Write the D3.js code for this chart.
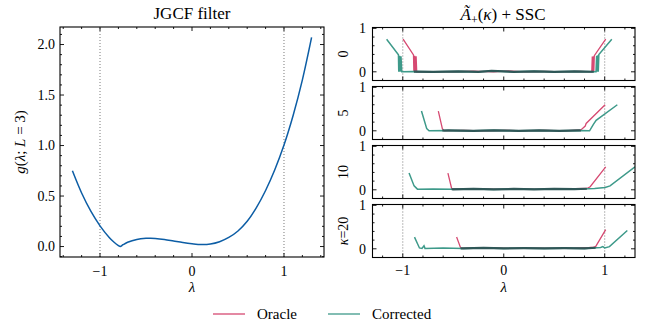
<!DOCTYPE html>
<html>
<head>
<meta charset="utf-8">
<script src="https://cdn.jsdelivr.net/npm/d3@7"></script>
<style>
  body { margin: 0; background: #fff; }
  svg { font-family: "Liberation Serif", serif; }
  .frame { fill: none; stroke: #000; stroke-width: 1.1; }
</style>
</head>
<body>
<div id="chart"></div>
<script>
// JGCF filter response g(lambda; L=3)
const filterLambda = [-1.3, -1.2, -1.1, -1.0, -0.9, -0.85, -0.8, -0.78, -0.75, -0.7, -0.6, -0.5, -0.45, -0.4,
  -0.3, -0.2, -0.1, 0.0, 0.1, 0.2, 0.3, 0.4, 0.5, 0.6, 0.7, 0.8, 0.9, 1.0, 1.1, 1.2, 1.3];
const filterValue = [0.75, 0.53, 0.35, 0.205, 0.09, 0.045, 0.01, 0.0, 0.018, 0.042, 0.07, 0.081, 0.082, 0.08,
  0.07, 0.055, 0.04, 0.028, 0.02, 0.025, 0.048, 0.09, 0.154, 0.25, 0.385, 0.555, 0.76, 1.005, 1.30, 1.65, 2.07];

// right column: [lambda, A] pairs per kappa
const kappas = ["0", "5", "10", "20"];
const oracle0 = [[-0.997, 0.75], [-0.894, 0.39], [-0.89, 0.0], [-0.882, 0.37], [-0.876, 0.0], [-0.868, 0.36],
  [-0.862, 0.0], [-0.7, 0.005], [-0.5, 0.0], [-0.3, 0.015], [-0.1, 0.0], [0.05, 0.02], [0.2, 0.0], [0.4, 0.01],
  [0.6, 0.0], [0.75, 0.01], [0.872, 0.0], [0.877, 0.35], [0.882, 0.0], [0.888, 0.36], [0.892, 0.0],
  [0.897, 0.37], [1.01, 0.75]];
const corrected0 = [[-1.16, 0.75], [-1.043, 0.39], [-1.04, 0.0], [-1.032, 0.37], [-1.026, 0.0], [-1.018, 0.36],
  [-1.01, 0.0], [-0.9, 0.005], [-0.7, 0.0], [-0.45, 0.01], [-0.25, 0.0], [-0.12, 0.02], [0.1, 0.0], [0.3, 0.012],
  [0.5, 0.0], [0.7, 0.01], [0.914, 0.0], [0.92, 0.37], [0.925, 0.0], [0.932, 0.38], [0.936, 0.0],
  [0.942, 0.40], [1.07, 0.75]];
const oracle5 = [[-0.648, 0.455], [-0.608, 0.05], [-0.59, 0.0], [-0.4, 0.01], [-0.2, 0.0], [0.0, 0.012],
  [0.2, 0.0], [0.4, 0.01], [0.6, 0.0], [0.764, 0.02], [0.807, 0.11], [0.816, 0.17], [1.004, 0.6]];
const corrected5 = [[-0.815, 0.455], [-0.763, 0.05], [-0.74, 0.0], [-0.55, 0.01], [-0.3, 0.0], [-0.1, 0.012],
  [0.15, 0.0], [0.35, 0.01], [0.55, 0.0], [0.75, 0.008], [0.85, 0.0], [0.888, 0.15], [0.915, 0.24], [1.125, 0.6]];
const oracle10 = [[-0.553, 0.385], [-0.516, 0.03], [-0.4, 0.015], [-0.2, 0.02], [0.0, 0.01], [0.2, 0.02],
  [0.4, 0.012], [0.6, 0.02], [0.823, 0.03], [0.856, 0.07], [1.01, 0.53]];
const corrected10 = [[-0.938, 0.385], [-0.888, 0.09], [-0.855, 0.015], [-0.7, 0.02], [-0.5, 0.012], [-0.3, 0.02],
  [-0.1, 0.01], [0.1, 0.02], [0.3, 0.012], [0.5, 0.02], [0.7, 0.015], [0.9, 0.03], [1.004, 0.054],
  [1.053, 0.09], [1.30, 0.53]];
const oracle20 = [[-0.467, 0.27], [-0.427, 0.02], [-0.3, 0.01], [-0.1, 0.02], [0.1, 0.01], [0.3, 0.015],
  [0.5, 0.01], [0.7, 0.015], [0.85, 0.03], [0.889, 0.04], [0.91, 0.05], [1.01, 0.44]];
const corrected20 = [[-0.884, 0.27], [-0.835, 0.02], [-0.81, 0.01], [-0.79, 0.07], [-0.78, 0.01], [-0.6, 0.02],
  [-0.4, 0.01], [-0.2, 0.02], [0.0, 0.01], [0.2, 0.015], [0.4, 0.01], [0.6, 0.015], [0.8, 0.01],
  [0.96, 0.03], [0.981, 0.05], [1.0, 0.02], [1.047, 0.05], [1.224, 0.42]];
const oracleSeries = [oracle0, oracle5, oracle10, oracle20];
const correctedSeries = [corrected0, corrected5, corrected10, corrected20];

const seriesNames = ["Oracle", "Corrected"];
const leftXTicks = [-1, 0, 1];
const leftYTicks = [0, 0.5, 1.0, 1.5, 2.0];
const rightYTicks = [0, 1];

const W = 649, H = 331;
const blue = "#0C5DA5", rose = "#d64a72", teal = "#3e9a8a", dark = "#2f5757";

const svg = d3.select("#chart").append("svg").attr("width", W).attr("height", H);

// ticks pointing inward on all four sides
function drawTicks(g, x, y, xMajor, xMinor, yMajor, yMinor) {
    const [x0, x1] = x.range(), [y0, y1] = y.range();
    const major = 4, minor = 2;
    xMajor.forEach(v => {
        g.append("line").attr("x1", x(v)).attr("x2", x(v)).attr("y1", y0).attr("y2", y0 - major);
        g.append("line").attr("x1", x(v)).attr("x2", x(v)).attr("y1", y1).attr("y2", y1 + major);
    });
    xMinor.forEach(v => {
        g.append("line").attr("x1", x(v)).attr("x2", x(v)).attr("y1", y0).attr("y2", y0 - minor);
        g.append("line").attr("x1", x(v)).attr("x2", x(v)).attr("y1", y1).attr("y2", y1 + minor);
    });
    yMajor.forEach(v => {
        g.append("line").attr("y1", y(v)).attr("y2", y(v)).attr("x1", x0).attr("x2", x0 + major);
        g.append("line").attr("y1", y(v)).attr("y2", y(v)).attr("x1", x1).attr("x2", x1 - major);
    });
    yMinor.forEach(v => {
        g.append("line").attr("y1", y(v)).attr("y2", y(v)).attr("x1", x0).attr("x2", x0 + minor);
        g.append("line").attr("y1", y(v)).attr("y2", y(v)).attr("x1", x1).attr("x2", x1 - minor);
    });
    g.selectAll("line").attr("stroke", "#000").attr("stroke-width", 0.9);
}

function fmtMinus(v, d) {
    return (v < 0 ? "\u2212" : "") + Math.abs(v).toFixed(d);
}

function dotted(g, x, y, v) {
    g.append("line").attr("x1", x(v)).attr("x2", x(v))
        .attr("y1", y.range()[0]).attr("y2", y.range()[1])
        .attr("stroke", "#7a7a7a").attr("stroke-width", 1).attr("stroke-dasharray", "1,2");
}

// ---------------- left panel ----------------
const lx = d3.scaleLinear().domain([-1.435, 1.435]).range([60, 324]);
const ly = d3.scaleLinear().domain([-0.1035, 2.1735]).range([257, 27]);
const left = svg.append("g");

dotted(left, lx, ly, -1);
dotted(left, lx, ly, 1);

const filterPts = filterLambda.map((v, i) => [v, filterValue[i]]);
left.append("path").datum(filterPts)
    .attr("fill", "none").attr("stroke", blue).attr("stroke-width", 1.5)
    .attr("d", d3.line().x(d => lx(d[0])).y(d => ly(d[1])).curve(d3.curveCatmullRom.alpha(0.5)));

const ticksL = left.append("g");
drawTicks(ticksL, lx, ly, leftXTicks, d3.range(-14, 15, 2).map(v => v / 10).filter(v => !leftXTicks.includes(v)),
    leftYTicks, d3.range(-1, 22).map(v => v / 10).filter(v => v % 0.5 !== 0));
left.append("rect").attr("class", "frame").attr("x", 60).attr("y", 27).attr("width", 264).attr("height", 230);

left.selectAll("text.xt").data(leftXTicks).enter().append("text")
    .attr("x", d => lx(d)).attr("y", 276).attr("text-anchor", "middle").attr("font-size", 14)
    .text(d => fmtMinus(d, 0));
left.selectAll("text.yt").data(leftYTicks).enter().append("text")
    .attr("x", 55).attr("y", d => ly(d) + 4.8).attr("text-anchor", "end").attr("font-size", 14)
    .text(d => d.toFixed(1));
left.append("text").attr("x", 192).attr("y", 19).attr("text-anchor", "middle").attr("font-size", 17)
    .text("JGCF filter");
left.append("text").attr("x", 192).attr("y", 292).attr("text-anchor", "middle").attr("font-size", 15)
    .attr("font-style", "italic").text("λ");
const yl = left.append("text").attr("transform", "translate(25,142) rotate(-90)")
    .attr("text-anchor", "middle").attr("font-size", 15);
yl.append("tspan").attr("font-style", "italic").text("g");
yl.append("tspan").text("(");
yl.append("tspan").attr("font-style", "italic").text("λ");
yl.append("tspan").text("; ");
yl.append("tspan").attr("font-style", "italic").text("L");
yl.append("tspan").text(" = 3)");

// ---------------- right column ----------------
const rx = d3.scaleLinear().domain([-1.3, 1.3]).range([372.5, 635]);
const panelTop0 = 27.5, panelH = 53, panelStep = 59;
const line = d3.line();

kappas.forEach((k, i) => {
    const top = panelTop0 + i * panelStep;
    const ry = d3.scaleLinear().domain([-0.2, 1.02]).range([top + panelH, top]);
    const g = svg.append("g");
    const clipId = "clip" + i;
    svg.append("clipPath").attr("id", clipId).append("rect")
        .attr("x", 372.5).attr("y", top).attr("width", 635 - 372.5).attr("height", panelH);

    dotted(g, rx, ry, -1);
    dotted(g, rx, ry, 1);

    line.x(d => rx(d[0])).y(d => ry(d[1]));
    const plot = g.append("g").attr("clip-path", `url(#${clipId})`);
    plot.append("path").datum(oracleSeries[i])
        .attr("fill", "none").attr("stroke", rose).attr("stroke-width", 1.3).attr("d", line);
    plot.append("path").datum(correctedSeries[i])
        .attr("fill", "none").attr("stroke", teal).attr("stroke-width", 1.5).attr("d", line);

    // where both curves sit on zero the stacked lines look dark
    const flat = s => s.filter(d => d[1] < 0.06).map(d => d[0]);
    const fo = flat(oracleSeries[i]), fc = flat(correctedSeries[i]);
    const s0 = Math.max(d3.min(fo), d3.min(fc)), s1 = Math.min(d3.max(fo), d3.max(fc));
    const ovId = "ov" + i;
    svg.append("clipPath").attr("id", ovId).append("rect")
        .attr("x", rx(s0)).attr("y", top).attr("width", rx(s1) - rx(s0)).attr("height", panelH);
    plot.append("path").datum(correctedSeries[i]).attr("clip-path", `url(#${ovId})`)
        .attr("fill", "none").attr("stroke", dark).attr("stroke-width", 2.2).attr("d", line);

    const tg = g.append("g");
    drawTicks(tg, rx, ry, [-1, 0, 1], [-1.2, -0.8, -0.6, -0.4, -0.2, 0.2, 0.4, 0.6, 0.8, 1.2],
        rightYTicks, [-0.2, 0.2, 0.4, 0.6, 0.8]);
    g.append("rect").attr("class", "frame").attr("x", 372.5).attr("y", top)
        .attr("width", 635 - 372.5).attr("height", panelH);

    g.selectAll("text.yt").data(rightYTicks).enter().append("text")
        .attr("x", 366).attr("y", d => ry(d) + 4.8).attr("text-anchor", "end").attr("font-size", 14)
        .text(d => d);

    const lab = g.append("text").attr("transform", `translate(348,${top + panelH / 2}) rotate(-90)`)
        .attr("text-anchor", "middle").attr("font-size", 14);
    if (i === kappas.length - 1) {
        lab.append("tspan").attr("font-style", "italic").text("κ");
        lab.append("tspan").text("=" + k);
    } else {
        lab.text(k);
    }

    if (i === kappas.length - 1) {
        g.selectAll("text.xt").data([-1, 0, 1]).enter().append("text")
            .attr("x", d => rx(d)).attr("y", 275).attr("text-anchor", "middle").attr("font-size", 14)
            .text(d => fmtMinus(d, 0));
        g.append("text").attr("x", rx(0)).attr("y", 292).attr("text-anchor", "middle").attr("font-size", 15)
            .attr("font-style", "italic").text("λ");
    }
});

// right title: Ã+(κ) + SSC
const rt = svg.append("text").attr("x", 503).attr("y", 20).attr("text-anchor", "middle").attr("font-size", 17);
rt.append("tspan").attr("font-style", "italic").text("Ã");
rt.append("tspan").attr("font-size", 12).attr("dy", 4).text("+");
rt.append("tspan").attr("dy", -4).text("(");
rt.append("tspan").attr("font-style", "italic").text("κ");
rt.append("tspan").text(") + SSC");

// legend
const legend = svg.append("g");
const legendColors = [rose, teal];
const legendX = [213, 328];
seriesNames.forEach((n, i) => {
    legend.append("line").attr("x1", legendX[i]).attr("x2", legendX[i] + 32).attr("y1", 314).attr("y2", 314)
        .attr("stroke", legendColors[i]).attr("stroke-width", 1.3);
    legend.append("text").attr("x", legendX[i] + 44).attr("y", 319).attr("font-size", 15).text(n);
});
</script>
</body>
</html>
